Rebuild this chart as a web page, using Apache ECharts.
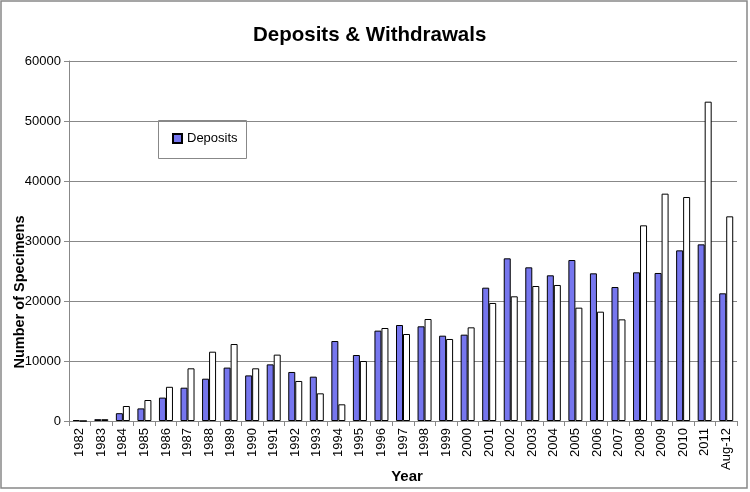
<!DOCTYPE html>
<html><head><meta charset="utf-8">
<script src="https://cdn.jsdelivr.net/npm/echarts@6/dist/echarts.min.js"></script>
<style>html,body{margin:0;padding:0;background:#fff}#c{width:750px;height:492px}</style>
</head><body><div id="c"></div>
<script>
const categories = ['1982','1983','1984','1985','1986','1987','1988','1989','1990','1991','1992','1993','1994','1995','1996','1997','1998','1999','2000','2001','2002','2003','2004','2005','2006','2007','2008','2009','2010','2011','Aug-12'];
const deposits = [150,300,1300,2100,3900,5550,7050,8900,7600,9440,8170,7390,13330,11000,15060,16000,15780,14220,14390,22220,27110,25610,24280,26830,24610,22330,24780,24670,28440,29440,21280];
const withdrawals = [0,300,2500,3500,5700,8780,11550,12830,8780,11060,6670,4610,2780,10000,15500,14500,17000,13670,15610,19670,20780,22500,22670,18890,18220,16940,32610,37890,37330,53220,34110];
const yTicks = [0,10000,20000,30000,40000,50000,60000];

const chart = echarts.init(document.getElementById('c'), null, {renderer:'canvas'});
const F = 'Liberation Sans, Arial, sans-serif';
chart.setOption({
  animation:false,
  backgroundColor:'#fff',
  title:{text:'Deposits & Withdrawals', left:248, top:20, textStyle:{fontFamily:F, fontSize:20.5, fontWeight:'bold', color:'#000'}},
  legend:{data:['Deposits'], left:167, top:127, itemWidth:9, itemHeight:9, itemGap:4, textStyle:{fontFamily:F, fontSize:13, color:'#000'}, icon:'rect'},
  grid:{left:69, right:13, top:61, bottom:71, containLabel:false, outerBoundsMode:'none'},
  xAxis:{type:'category', data:categories,
    axisLine:{lineStyle:{color:'#888', width:1}},
    axisTick:{show:true, alignWithLabel:false, length:5, lineStyle:{color:'#888'}},
    axisLabel:{rotate:90, interval:0, fontFamily:F, fontSize:13, color:'#000', margin:7}},
  yAxis:{type:'value', min:0, max:60000, interval:10000,
    axisLine:{show:true, lineStyle:{color:'#888'}},
    axisTick:{show:true, length:5, lineStyle:{color:'#888'}},
    splitLine:{lineStyle:{color:'#888', width:1}},
    axisLabel:{fontFamily:F, fontSize:13, color:'#000', margin:8,
      formatter:v=> yTicks.includes(v) ? String(v) : ''}},
  series:[
    {name:'Deposits', type:'bar', data:deposits, barWidth:7, barGap:'0%',
      itemStyle:{color:'#7676EE', borderColor:'#000', borderWidth:1}},
    {name:'Withdrawals', type:'bar', data:withdrawals, barWidth:7, barGap:'0%',
      itemStyle:{color:'#fff', borderColor:'#000', borderWidth:1}}
  ],
  graphic:[
    {type:'rect', shape:{x:1, y:1, width:746, height:487}, style:{fill:'none', stroke:'#888', lineWidth:1.5}, z:-1},
    {type:'rect', shape:{x:158.5, y:120.5, width:88, height:38}, style:{fill:'#fff', stroke:'#888', lineWidth:1}, z:0},
    {type:'text', x:407, y:477, z:10,
      style:{text:'Year', fontFamily:F, fontSize:15, fontWeight:'bold', fill:'#000', textAlign:'center', textVerticalAlign:'middle'}},
    {type:'text', x:20, y:292, rotation:Math.PI/2, z:10,
      style:{text:'Number of Specimens', fontFamily:F, fontSize:14.5, fontWeight:'bold', fill:'#000', textAlign:'center', textVerticalAlign:'middle'}}
  ]
});
</script></body></html>
